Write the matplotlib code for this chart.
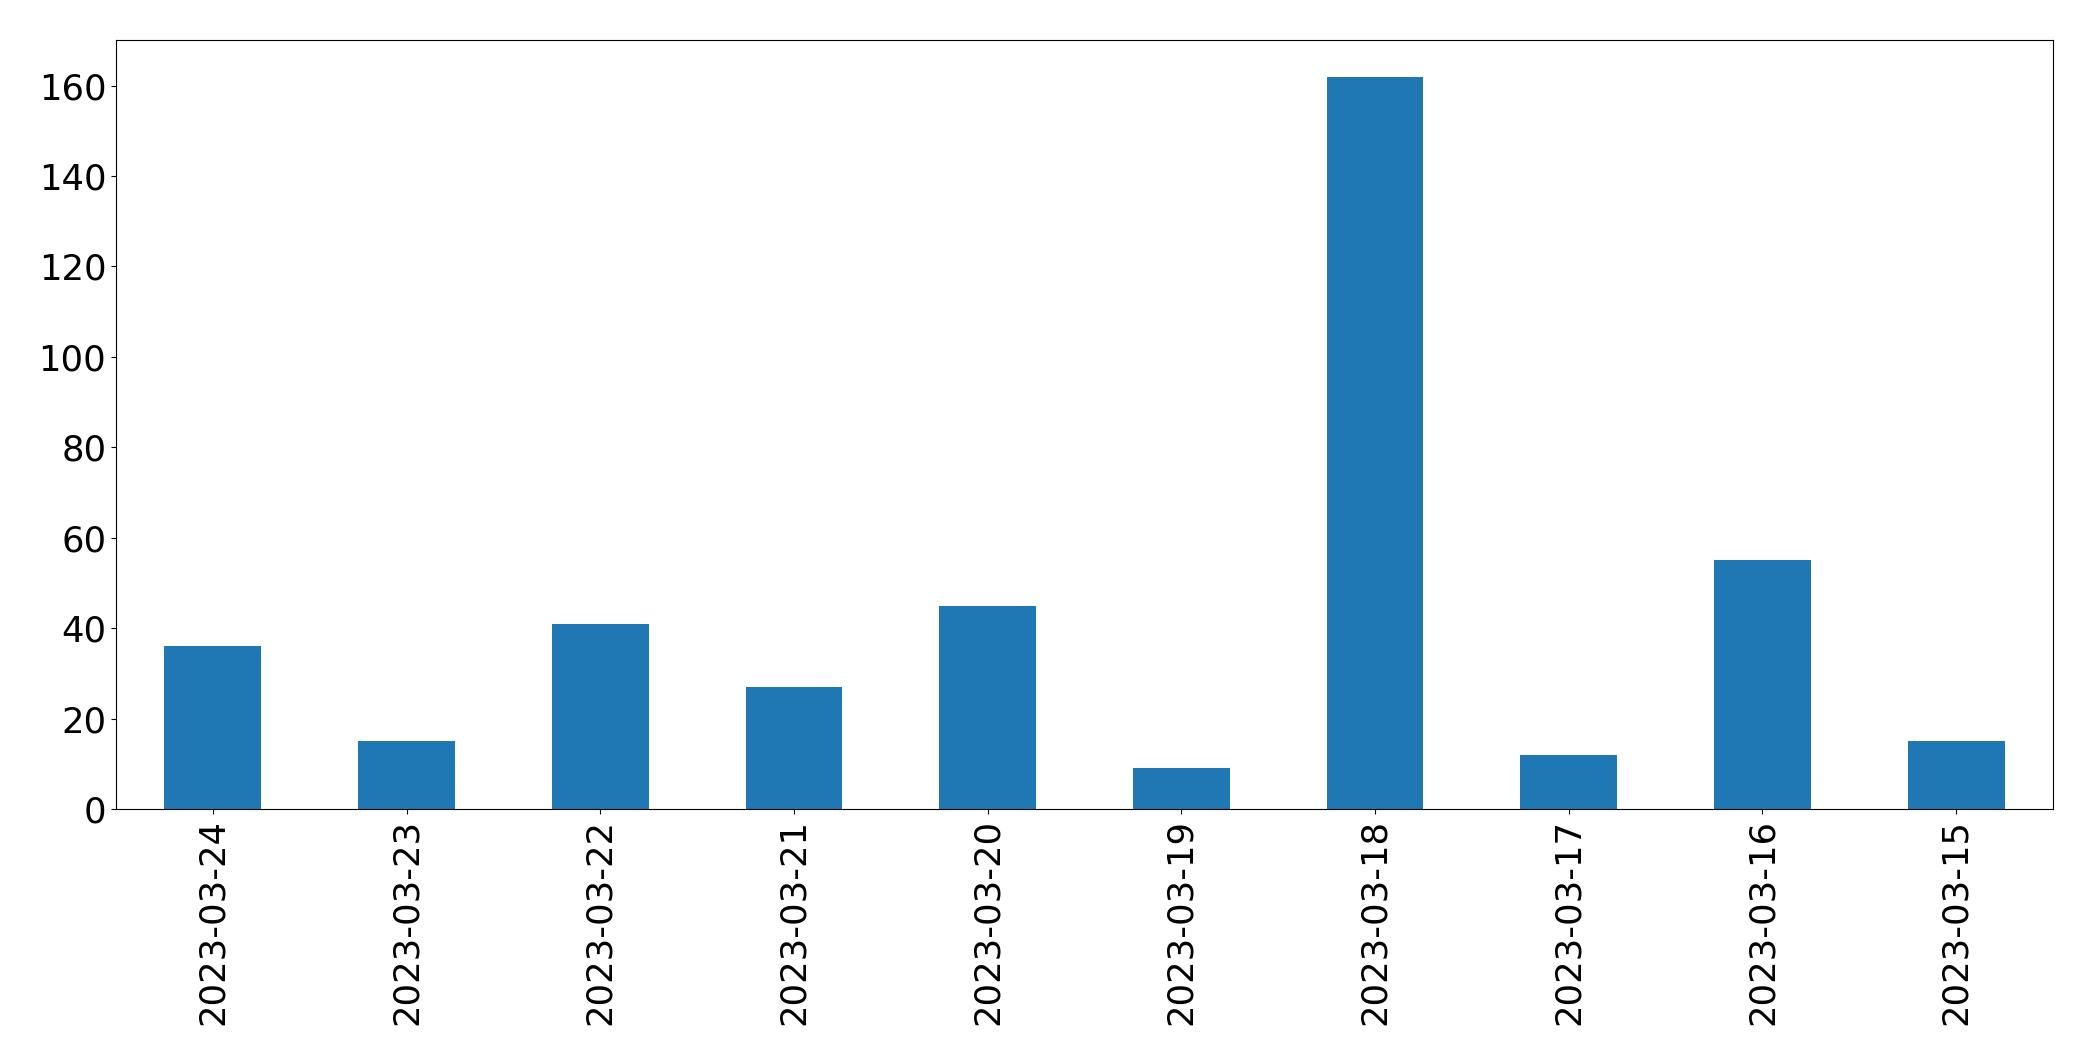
import matplotlib
matplotlib.use('Agg')
from matplotlib import pyplot as plt
import pandas as pd

dates = ['2023-03-24', '2023-03-23', '2023-03-22', '2023-03-21', '2023-03-20',
         '2023-03-19', '2023-03-18', '2023-03-17', '2023-03-16', '2023-03-15']
counts = [36, 15, 41, 27, 45, 9, 162, 12, 55, 15]

series = pd.Series(counts, index=dates)

fig = plt.figure(figsize=(20.93, 10.61), dpi=100)
ax = fig.add_axes([116 / 2093, 1 - 809 / 1061, (2053 - 116) / 2093, (809 - 40) / 1061])
series.plot(kind='bar', ax=ax, color='#1f77b4')
ax.tick_params(axis='both', labelsize=25.5)

fig.savefig('out.png', dpi=100)
